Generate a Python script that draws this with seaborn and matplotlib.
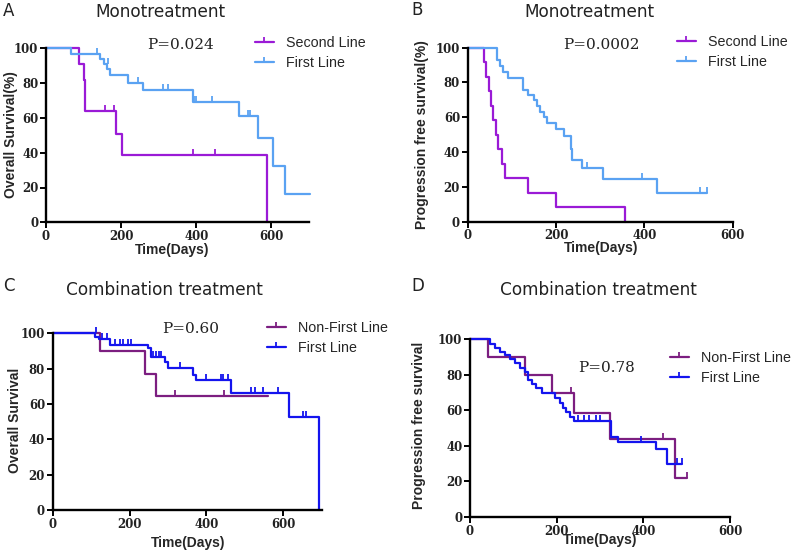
import numpy as np
import pandas as pd
import matplotlib
matplotlib.use("Agg")
import matplotlib.pyplot as plt
from matplotlib.path import Path
from matplotlib.lines import Line2D
import seaborn as sns

# ---------------- data ----------------
# Panel A: Monotreatment, overall survival
A_second_t = [0, 88, 100, 105, 186, 201, 588]
A_second_s = [100, 91, 82, 64, 51, 38.5, 0]
A_second_ct = [157, 181, 390, 449]
A_second_cs = [64, 64, 38.5, 38.5]
A_first_t = [0, 66, 143, 155, 162, 170, 218, 259, 392, 514, 565, 603, 636, 702]
A_first_s = [100, 97, 94, 91, 88, 84.5, 80, 76, 69, 61, 48.5, 32.4, 16.3, 16.3]
A_first_ct = [135, 165, 245, 311, 325, 395, 400, 443, 538, 544]
A_first_cs = [97, 91, 80, 76, 76, 69, 69, 69, 61, 61]

# Panel B: Monotreatment, progression free survival
B_second_t = [0, 36, 42, 48, 53, 58, 63, 68, 77, 85, 136, 201, 356]
B_second_s = [100, 91.7, 83.3, 75, 66.7, 58.3, 50, 41.7, 33.3, 25, 16.7, 8.3, 0]
B_second_ct = []
B_second_cs = []
B_first_t = [0, 66, 72, 80, 92, 126, 137, 150, 157, 163, 172, 180, 200, 217, 233, 237, 259, 307, 428, 542]
B_first_s = [100, 93, 89.5, 86, 82.5, 75.5, 73, 70, 66.5, 63, 60, 56.5, 53, 49, 42, 35.5, 30.7, 24.4, 16.7, 16.7]
B_first_ct = [271, 394, 527, 542]
B_first_cs = [30.7, 24.4, 16.7, 16.7]

# Panel C: Combination treatment, overall survival
C_second_t = [0, 123, 240, 270, 560]
C_second_s = [100, 90.2, 77, 64.5, 64.5]
C_second_ct = [318, 446]
C_second_cs = [64.5, 64.5]
C_first_t = [0, 110, 120, 150, 248, 257, 292, 300, 365, 372, 465, 616, 694]
C_first_s = [100, 98, 96.5, 93.4, 91.5, 86.8, 84, 80.2, 76.5, 73.6, 66, 52.8, 0]
C_first_ct = [112, 128, 140, 162, 174, 183, 196, 205, 262, 268, 276, 283, 331,
              398, 439, 443, 456, 515, 527, 547, 586, 651, 660]
C_first_cs = [100, 96.5, 96.5, 93.4, 93.4, 93.4, 93.4, 93.4, 86.8, 86.8, 86.8, 86.8, 80.2,
              73.6, 73.6, 73.6, 73.6, 66, 66, 66, 66, 52.8, 52.8]

# Panel D: Combination treatment, progression free survival
D_second_t = [0, 42, 126, 190, 241, 322, 473, 500]
D_second_s = [100, 90, 80, 70, 58.5, 44, 22, 22]
D_second_ct = [234, 445, 500]
D_second_cs = [70, 44, 22]
D_first_t = [0, 46, 57, 69, 80, 92, 103, 115, 126, 134, 142, 153, 165, 195, 207, 214,
             222, 230, 240, 325, 342, 430, 455, 490]
D_first_s = [100, 97.5, 95, 93, 91, 89, 86.5, 84, 81.5, 77, 75, 72.5, 69.7, 66.8, 64, 61.2,
             59, 56.3, 54, 45, 42, 38, 30, 30]
D_first_ct = [250, 262, 275, 290, 300, 395, 478, 490]
D_first_cs = [54, 54, 54, 54, 54, 42, 30, 30]

titles = ["Monotreatment", "Monotreatment", "Combination treatment", "Combination treatment"]
letters = ["A", "B", "C", "D"]
ylabels = ["Overall Survival(%)", "Progression free survival(%)", "Overall Survival", "Progression free survival"]
xlabel = "Time(Days)"
pvals = ["P=0.024", "P=0.0002", "P=0.60", "P=0.78"]
legend_labels = [["Second Line", "First Line"], ["Second Line", "First Line"],
                 ["Non-First Line", "First Line"], ["Non-First Line", "First Line"]]
xticks_all = [0, 200, 400, 600]
yticks = [0, 20, 40, 60, 80, 100]

# ---------------- style ----------------
sns.set_theme(style="ticks")
plt.rcParams["font.family"] = ["DejaVu Sans"]

W, H = 797, 554
fig = plt.figure(figsize=(W / 100, H / 100), dpi=100)

PURPLE1, BLUE1 = "#9A1AD6", "#5AA2F2"
PURPLE2, BLUE2 = "#7C1E80", "#1414EE"

tick_marker = Path([(0, 0), (0, 1)], [Path.MOVETO, Path.LINETO])


def px_axes(l, t, r, b):
    return fig.add_axes([l / W, 1 - b / H, (r - l) / W, (b - t) / H])


panels = [
    dict(box=(46, 48.3, 309, 222.3), xmax=700,
         curves=[(A_second_t, A_second_s, A_second_ct, A_second_cs, PURPLE1),
                 (A_first_t, A_first_s, A_first_ct, A_first_cs, BLUE1)],
         title_xy=(160, 12), letter_xy=(3, 11), p_xy=(181, 45),
         leg_xy=(255, 36), xl_xy=(172, 250), yl_xy=(11, 135)),
    dict(box=(467.7, 47.7, 732.7, 221.7), xmax=600,
         curves=[(B_second_t, B_second_s, B_second_ct, B_second_cs, PURPLE1),
                 (B_first_t, B_first_s, B_first_ct, B_first_cs, BLUE1)],
         title_xy=(589, 12), letter_xy=(411, 10), p_xy=(601, 45),
         leg_xy=(677, 35), xl_xy=(601, 248), yl_xy=(422, 135)),
    dict(box=(52.7, 333.3, 321.7, 510), xmax=700,
         curves=[(C_second_t, C_second_s, C_second_ct, C_second_cs, PURPLE2),
                 (C_first_t, C_first_s, C_first_ct, C_first_cs, BLUE2)],
         title_xy=(164, 290), letter_xy=(3, 286), p_xy=(191, 329),
         leg_xy=(267, 321), xl_xy=(188, 543), yl_xy=(15, 420)),
    dict(box=(470, 339.3, 730, 517), xmax=600,
         curves=[(D_second_t, D_second_s, D_second_ct, D_second_cs, PURPLE2),
                 (D_first_t, D_first_s, D_first_ct, D_first_cs, BLUE2)],
         title_xy=(598, 290), letter_xy=(411, 286), p_xy=(607, 368),
         leg_xy=(670, 351), xl_xy=(600, 540), yl_xy=(419, 425)),
]

for i, p in enumerate(panels):
    ax = px_axes(*p["box"])
    frames = []
    pal = {}
    for k, (t, s, ct, cs, col) in enumerate(p["curves"]):
        name = legend_labels[i][k]
        frames.append(pd.DataFrame({"day": t, "surv": s, "group": name}))
        pal[name] = col
    df = pd.concat(frames, ignore_index=True)
    sns.lineplot(data=df, x="day", y="surv", hue="group", palette=pal,
                 estimator=None, sort=False, drawstyle="steps-post",
                 linewidth=1.6, legend=False, ax=ax, clip_on=False)
    for k, (t, s, ct, cs, col) in enumerate(p["curves"]):
        if len(ct):
            ax.plot(ct, cs, linestyle="none", marker=tick_marker, markersize=8,
                    markeredgewidth=1.3, color=col, clip_on=False)

    ax.set_xlim(0, p["xmax"])
    ax.set_ylim(0, 100)
    ax.set_xticks(xticks_all)
    ax.set_yticks(yticks)
    sns.despine(ax=ax)
    for sp in ("left", "bottom"):
        ax.spines[sp].set_linewidth(1.7)
        ax.spines[sp].set_color("black")
    ax.tick_params(axis="both", length=4, width=1.4, color="black", pad=1.5,
                   labelsize=8.5, labelcolor="#222222")
    for lab in ax.get_xticklabels() + ax.get_yticklabels():
        lab.set_fontfamily("DejaVu Serif")
        lab.set_fontweight("bold")
    ax.set_xlabel(xlabel, fontsize=10, fontweight="bold", family="Liberation Sans")
    ax.set_ylabel(ylabels[i], fontsize=10, fontweight="bold", family="Liberation Sans")
    ax.xaxis.label.set_va("center")
    ax.yaxis.label.set_va("center")
    ax.xaxis.set_label_coords(p["xl_xy"][0] / W, 1 - p["xl_xy"][1] / H, transform=fig.transFigure)
    ax.yaxis.set_label_coords(p["yl_xy"][0] / W, 1 - p["yl_xy"][1] / H, transform=fig.transFigure)

    fig.text(p["title_xy"][0] / W, 1 - p["title_xy"][1] / H, titles[i],
             ha="center", va="center", fontsize=12.2, color="#222222")
    fig.text(p["letter_xy"][0] / W, 1 - p["letter_xy"][1] / H, letters[i],
             ha="left", va="center", fontsize=12, color="#222222")
    fig.text(p["p_xy"][0] / W, 1 - p["p_xy"][1] / H, pvals[i],
             ha="center", va="center", fontsize=11, family="DejaVu Serif", color="#222222")

    handles = [Line2D([0], [0], color=c[4], lw=1.6, marker=tick_marker,
                      markersize=7, markeredgewidth=1.3) for c in p["curves"]]
    ax.legend(handles, legend_labels[i], loc="upper left",
              bbox_to_anchor=(p["leg_xy"][0] / W, 1 - p["leg_xy"][1] / H),
              bbox_transform=fig.transFigure, frameon=False,
              handlelength=1.3, handletextpad=0.9, labelspacing=0.41, borderpad=0,
              borderaxespad=0, prop={"family": "Liberation Sans", "size": 10.3})

fig.savefig("out.png", dpi=100)
